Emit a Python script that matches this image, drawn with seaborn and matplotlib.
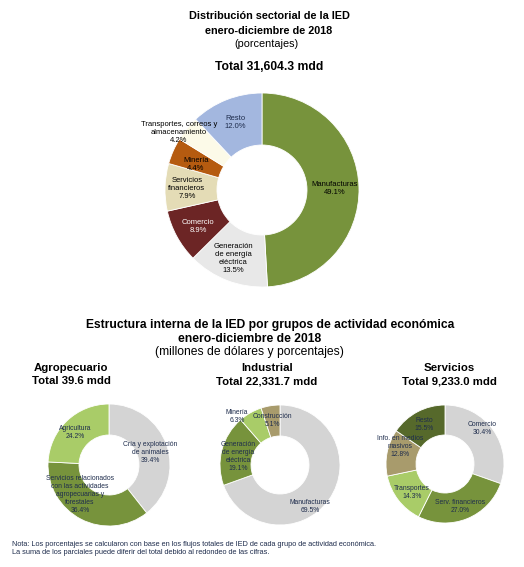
import matplotlib
matplotlib.use("Agg")
import matplotlib.pyplot as plt
import seaborn as sns

# ---------------- data ----------------
main_labels = ["Manufacturas", "Generación\nde energía\neléctrica", "Comercio",
               "Servicios\nfinancieros", "Minería",
               "Transportes, correos y\nalmacenamiento", "Resto"]
main_values = [49.1, 13.5, 8.9, 7.9, 4.4, 4.2, 12.0]

agro_labels = ["Cría y explotación\nde animales",
               "Servicios relacionados\ncon las actividades\nagropecuarias y\nforestales",
               "Agricultura"]
agro_values = [39.4, 36.4, 24.2]

ind_labels = ["Manufacturas", "Generación\nde energía\neléctrica", "Minería", "Construcción"]
ind_values = [69.5, 19.1, 6.3, 5.1]

serv_labels = ["Comercio", "Serv. financieros", "Transportes",
               "Info. en medios\nmasivos", "Resto"]
serv_values = [30.4, 27.0, 14.3, 12.8, 15.5]

main_total = "31,604.3"
agro_total = "39.6"
ind_total = "22,331.7"
serv_total = "9,233.0"

# ---------------- style ----------------
sns.set_theme(style="white")
plt.rcParams["font.family"] = ["Liberation Sans", "DejaVu Sans"]

W, H = 524, 567
fig = plt.figure(figsize=(W / 100, H / 100), dpi=100)
ax = fig.add_axes([0, 0, 1, 1])

OLIVE = "#77933C"
LGREEN = "#A9CC68"
GRAY = "#D4D4D4"
TAN = "#A89B6C"
DOLIVE = "#56692B"
NAVY = "#1F2D4D"

main_colors = ["#77933C", "#E8E8E8", "#6C2525", "#E4DCB6", "#B55B10", "#FCFAE8", "#A3B7DF"]
agro_colors = [GRAY, OLIVE, LGREEN]
ind_colors = [GRAY, OLIVE, LGREEN, TAN]
serv_colors = [GRAY, OLIVE, LGREEN, TAN, DOLIVE]


def Y(py):
    return H - py


def donut(values, colors, cx, cy, r, width):
    ax.pie(values, colors=colors, center=(cx, Y(cy)), radius=r,
           startangle=90, counterclock=False,
           wedgeprops=dict(width=width, edgecolor="white", linewidth=0.6))


def T(px, py, s, size, bold=False, color="black", ha="center", ls=1.2):
    ax.text(px, Y(py), s, fontsize=size, fontweight="bold" if bold else "normal",
            color=color, ha=ha, va="center", linespacing=ls)


# main donut
donut(main_values, main_colors, 262, 190, 97, 52)
main_pos = [(335, 188), (233, 258), (198, 226), (187, 188), (196, 165), (179, 132), (235, 123)]
main_tc = ["black", "black", "white", "black", "black", "black", NAVY]
for lab, v, (px, py), c in zip(main_labels, main_values, main_pos, main_tc):
    T(px, py, f"{lab}\n{v:.1f}%", 5.5, color=c)

# small donuts
donut(agro_values, agro_colors, 109, 465, 61, 31)
donut(ind_values, ind_colors, 280, 465, 60, 31)
donut(serv_values, serv_colors, 445, 464, 59, 30)

agro_pos = [(150, 452), (80, 494), (75, 432)]
ind_pos = [(310, 507), (238, 457), (237, 416), (272, 420)]
serv_pos = [(482, 428), (460, 506), (412, 492), (400, 447), (424, 424)]
for labels, values, poss in [(agro_labels, agro_values, agro_pos),
                             (ind_labels, ind_values, ind_pos),
                             (serv_labels, serv_values, serv_pos)]:
    for lab, v, (px, py) in zip(labels, values, poss):
        T(px, py, f"{lab}\n{v:.1f}%", 4.85, color=NAVY)

# titles
T(269, 16, "Distribución sectorial de la IED", 7.8, bold=True)
T(269, 31, "enero-diciembre de 2018", 7.8, bold=True)
T(266, 44, "(porcentajes)", 7.8)
T(269, 67, f"Total {main_total} mdd", 8.7, bold=True)

T(270, 325, "Estructura interna de la IED por grupos de actividad económica", 8.7, bold=True)
T(250, 339, "enero-diciembre de 2018", 8.7, bold=True)
T(249, 352, "(millones de dólares y porcentajes)", 8.7)

T(71, 368, "Agropecuario", 8.2, bold=True)
T(71, 381, f"Total {agro_total} mdd", 8.2, bold=True)
T(267, 368, "Industrial", 8.2, bold=True)
T(267, 381, f"Total {ind_total} mdd", 8.2, bold=True)
T(449, 368, "Servicios", 8.2, bold=True)
T(449, 381, f"Total {serv_total} mdd", 8.2, bold=True)

T(12, 545, "Nota: Los porcentajes se calcularon con base en los flujos totales de IED de cada grupo de actividad económica.",
  5.35, color=NAVY, ha="left")
T(12, 553, "La suma de los parciales puede diferir del total debido al redondeo de las cifras.",
  5.35, color=NAVY, ha="left")

ax.set_xlim(0, W)
ax.set_ylim(0, H)
ax.set_aspect("auto")
ax.axis("off")

fig.savefig("out.png", dpi=100, facecolor="white")
